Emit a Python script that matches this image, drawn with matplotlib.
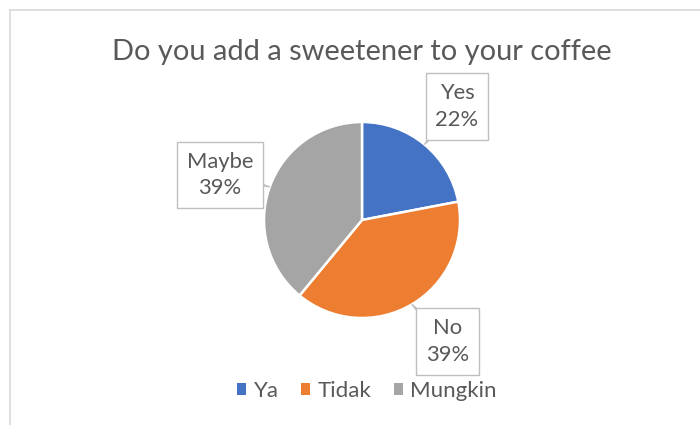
import numpy as np
import matplotlib
matplotlib.use("Agg")
import matplotlib.pyplot as plt
from matplotlib.patches import Patch, Polygon
from matplotlib.lines import Line2D

# Survey answers
title = "Do you add a sweetener to your coffee"
legend_labels = ["Ya", "Tidak", "Mungkin"]
label_names = ["Yes", "No", "Maybe"]
shares = [22, 39, 39]
colors = ["#4472C4", "#ED7D31", "#A5A5A5"]

# callout box centres, in pie radii from the centre
label_pos = [(0.97, 1.16), (0.87, -1.24), (-1.45, 0.46)]

TEXT = "#595959"
FONT = "Lato"

W, H = 700, 425
fig = plt.figure(figsize=(W / 100, H / 100), dpi=100)
fig.patch.set_facecolor("white")

# chart area frame (top and left edges visible)
fig.add_artist(Line2D([9.5 / W, 9.5 / W], [0, 1 - 9.5 / H], transform=fig.transFigure,
                      color="#D9D9D9", lw=1.2))
fig.add_artist(Line2D([9.5 / W, 1], [1 - 9.5 / H, 1 - 9.5 / H], transform=fig.transFigure,
                      color="#D9D9D9", lw=1.2))

fig.text(362 / W, 1 - 52 / H, title, ha="center", va="center",
         fontsize=20.9, color=TEXT, family=FONT)

# pie: centre (362, 220) px, radius 98 px
cx, cy, r = 362, 220, 98
ax = fig.add_axes([(cx - r) / W, (H - cy - r) / H, 2 * r / W, 2 * r / H])

wedges, _ = ax.pie(shares, colors=colors, startangle=90, counterclock=False, radius=1,
                   wedgeprops=dict(edgecolor="white", linewidth=1.8))
ax.set_xlim(-1, 1)
ax.set_ylim(-1, 1)
ax.axis("off")

total = float(sum(shares))
cum = 0.0
for name, val, (lx, ly) in zip(label_names, shares, label_pos):
    mid = (cum + val / 2) / total * 2 * np.pi
    cum += val
    tip = np.array([np.sin(mid), np.cos(mid)])
    centre = np.array([lx, ly])
    d = centre - tip
    d = d / np.hypot(*d)
    perp = np.array([-d[1], d[0]]) * 0.05
    # callout tail from the box towards the slice edge
    tail = Polygon([centre + perp, tip, centre - perp], closed=True, facecolor="white",
                   edgecolor="#BFBFBF", lw=1.0, zorder=3, clip_on=False)
    ax.add_patch(tail)
    ax.text(lx, ly, f"{name}\n{val}%", ha="center", va="center", fontsize=15.8,
            color=TEXT, family=FONT, linespacing=1.42, zorder=4, clip_on=False,
            bbox=dict(boxstyle="square,pad=0.45", facecolor="white",
                      edgecolor="#BFBFBF", lw=1.0))

handles = [Patch(facecolor=c, edgecolor="none") for c in colors]
leg = fig.legend(handles, legend_labels, loc="center", bbox_to_anchor=(367 / W, 1 - 391 / H),
                 ncol=3, frameon=False, handlelength=0.4, handleheight=0.4,
                 handletextpad=0.35, columnspacing=1.0, prop=dict(family=FONT, size=16))
for t in leg.get_texts():
    t.set_color(TEXT)

fig.savefig("out.png", dpi=100, facecolor="white")
